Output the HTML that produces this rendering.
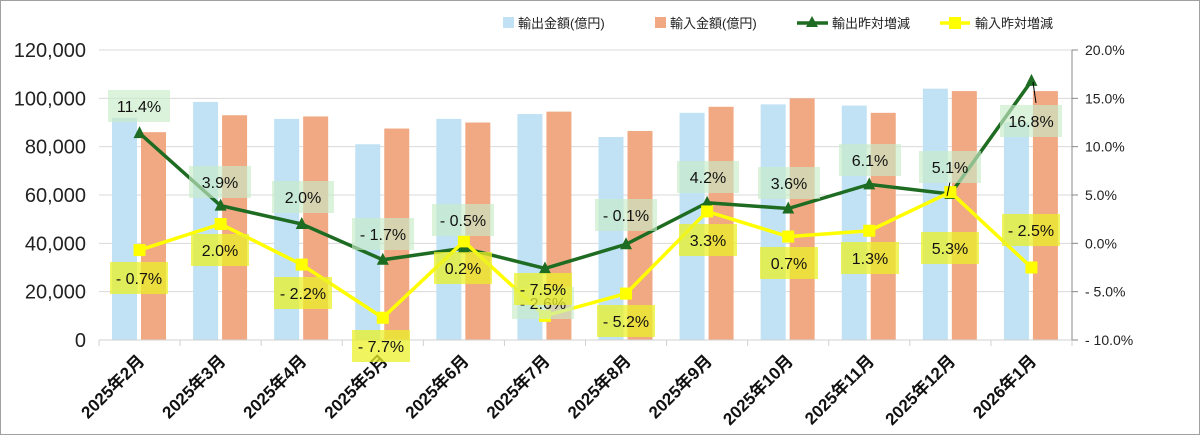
<!DOCTYPE html>
<html><head><meta charset="utf-8">
<style>
html,body{margin:0;padding:0;background:#fff;}
svg{display:block;font-family:"Liberation Sans","Noto Sans CJK JP",sans-serif;}
</style></head>
<body>
<svg id="c" width="1200" height="435" viewBox="0 0 1200 435" xmlns="http://www.w3.org/2000/svg"></svg>
<script>
const s=document.getElementById('c');let h='';
h+='<rect x="0.5" y="0.5" width="1199" height="434" fill="#fff" stroke="#a0a0a0"/>';
const L=99,R=1072,T=50,B=340,cw=(R-L)/12;
const yv=v=>B-v/120000*(B-T), yp=p=>B-(p+10)/30*(B-T);
for(let i=0;i<=6;i++){const y=B-i*(B-T)/6;
 if(i>0)h+=`<line x1="${L}" x2="${R}" y1="${y}" y2="${y}" stroke="#d9d9d9"/>`;
 h+=`<text x="86" y="${y+7}" font-size="20" text-anchor="end" fill="#222">${i==0?'0':(i*20)+',000'}</text>`;
 const pv=-10+i*5;h+=`<text x="1085" y="${y+5}" font-size="14" fill="#222">${pv<0?'- '+(-pv).toFixed(1):pv.toFixed(1)}%</text>`;
 h+=`<line x1="${R}" x2="${R+6}" y1="${y}" y2="${y}" stroke="#888"/>`;}
const blue=[91900,98500,91500,81000,91500,93500,84000,94000,97500,97000,104000,90000];
const org=[86000,93000,92500,87500,90000,94500,86500,96500,100000,94000,103000,103000];
const g=[11.4,3.9,2.0,-1.7,-0.5,-2.6,-0.1,4.2,3.6,6.1,5.1,16.8];
const yl=[-0.7,2.0,-2.2,-7.7,0.2,-7.5,-5.2,3.3,0.7,1.3,5.3,-2.5];
const mon=['2025年2月','2025年3月','2025年4月','2025年5月','2025年6月','2025年7月','2025年8月','2025年9月','2025年10月','2025年11月','2025年12月','2026年1月'];
for(let i=0;i<12;i++){const x0=L+i*cw;
 h+=`<rect x="${x0+13}" y="${yv(blue[i])}" width="25" height="${B-yv(blue[i])}" fill="#c0e2f4"/>`;
 h+=`<rect x="${x0+42}" y="${yv(org[i])}" width="25" height="${B-yv(org[i])}" fill="#f1a984"/>`;}
h+=`<line x1="${L}" x2="${R}" y1="${B}" y2="${B}" stroke="#d0d0d0"/>`;
h+=`<line x1="${R}" x2="${R}" y1="${T}" y2="${B}" stroke="#888"/>`;
for(let i=0;i<=12;i++){const x=L+i*cw;h+=`<line x1="${x}" x2="${x}" y1="${B}" y2="${B+6}" stroke="#d0d0d0"/>`;}
for(let i=0;i<12;i++){const cx=L+cw*(i+0.5);
 h+=`<text transform="translate(${cx+6},${B+22}) rotate(-45)" font-size="17" font-weight="bold" text-anchor="end" fill="#111">${mon[i]}</text>`;}
const cx=i=>L+cw*(i+0.5);
h+=`<polyline fill="none" stroke="#1e6b22" stroke-width="3.5" points="${g.map((p,i)=>cx(i)+','+yp(p)).join(' ')}"/>`;
g.forEach((p,i)=>{const x=cx(i),y=yp(p);h+=`<polygon points="${x},${y-7} ${x-6},${y+5} ${x+6},${y+5}" fill="#1e6b22"/>`;});
h+=`<polyline fill="none" stroke="#ffff00" stroke-width="3.5" points="${yl.map((p,i)=>cx(i)+','+yp(p)).join(' ')}"/>`;
yl.forEach((p,i)=>{const x=cx(i),y=yp(p);h+=`<rect x="${x-6}" y="${y-6}" width="12" height="12" fill="#ffff00"/>`;});
const fmt=p=>p<0?'- '+(-p).toFixed(1)+'%':p.toFixed(1)+'%';
const gl=[[139,106],[220,182],[303,197],[383,234],[463,220],[543,303],[626,215],[708,177],[789,183],[870,160],[950,167],[1031,121]];
const ylp=[[139,278],[220,250],[303,293],[381,346],[463,268],[543,289],[626,321],[708,240],[789,263],[870,258],[950,248],[1031,230]];
h+=`<line x1="950" y1="182" x2="947" y2="196" stroke="#000"/><line x1="1033" y1="82" x2="1036" y2="103" stroke="#000"/>`;
gl.forEach(([x,y],i)=>{h+=`<rect x="${x-31}" y="${y-16}" width="62" height="32" fill="rgba(200,235,200,0.65)"/><text x="${x}" y="${y+6}" font-size="16" text-anchor="middle" fill="#111">${fmt(g[i])}</text>`;});
ylp.forEach(([x,y],i)=>{h+=`<rect x="${x-29}" y="${y-16}" width="58" height="32" fill="rgba(235,240,40,0.75)"/><text x="${x}" y="${y+6}" font-size="16" text-anchor="middle" fill="#111">${fmt(yl[i])}</text>`;});
h+=`<rect x="503" y="17" width="11" height="11" fill="#c0e2f4"/><text x="518" y="28" font-size="13" fill="#222">輸出金額(億円)</text>`;
h+=`<rect x="655" y="17" width="11" height="11" fill="#f1a984"/><text x="670" y="28" font-size="13" fill="#222">輸入金額(億円)</text>`;
h+=`<line x1="797" x2="828" y1="23" y2="23" stroke="#1e6b22" stroke-width="3.5"/><polygon points="812,16 806,27 818,27" fill="#1e6b22"/><text x="832" y="28" font-size="13" fill="#222">輸出昨対増減</text>`;
h+=`<line x1="940" x2="970" y1="23" y2="23" stroke="#ffff00" stroke-width="3.5"/><rect x="949" y="17" width="12" height="12" fill="#ffff00"/><text x="975" y="28" font-size="13" fill="#222">輸入昨対増減</text>`;
s.innerHTML=h;
</script>
</body></html>
